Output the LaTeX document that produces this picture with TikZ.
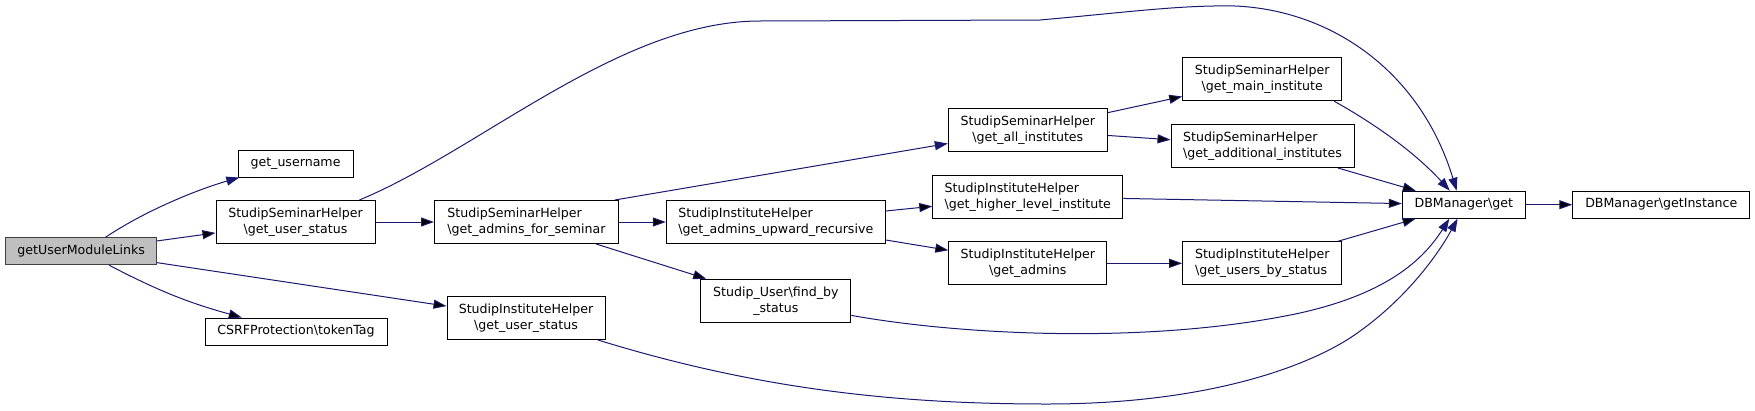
\documentclass[tikz,border=0pt]{standalone}
\usepackage{fontspec}
\setmainfont{DejaVu Sans}
\usepackage{tikz}
\usetikzlibrary{arrows.meta}
\definecolor{callblue}{HTML}{191970}
\definecolor{rootfill}{HTML}{BFBFBF}
\definecolor{rootdraw}{HTML}{404040}
\newcommand{\bsl}{\textbackslash}

\begin{document}
\begin{tikzpicture}[x=1pt,y=-1pt,>={Triangle[length=13pt,width=9pt]},
fn/.style={draw=black,line width=1pt,fill=white,inner sep=0pt,
minimum height=27pt,font=\fontsize{12.6}{16}\selectfont},
fntwo/.style={fn,minimum height=43pt},
root/.style={fn,draw=rootdraw,fill=rootfill},
call/.style={draw=callblue,line width=1pt}]
\useasboundingbox (0,0) rectangle (1755,410);
\node[root,minimum width=151pt] (guml) at (81.2,251.3) {getUserModuleLinks};
\node[fn,minimum width=115pt] (uname) at (295.5,163.5) {get\_username};
\node[fntwo,minimum width=159pt,align=center] (sshus) at (295.5,222) {StudipSeminarHelper\\\bsl get\_user\_status};
\node[fn,minimum width=182pt] (csrf) at (296,331.5) {CSRFProtection\bsl tokenTag};
\node[fntwo,minimum width=184pt,align=left] (sshafs) at (526.5,222) {StudipSeminarHelper\\\bsl get\_admins\_for\_seminar};
\node[fntwo,minimum width=158pt,align=center] (sihus) at (526,318) {StudipInstituteHelper\\\bsl get\_user\_status};
\node[fntwo,minimum width=219pt,align=left] (sihaur) at (775.8,222) {StudipInstituteHelper\\\bsl get\_admins\_upward\_recursive};
\node[fntwo,minimum width=150pt,align=center] (finduser) at (775.8,300.7) {Studip\_User\bsl find\_by\\\_status};
\node[fntwo,minimum width=159pt,align=center] (allinst) at (1027.8,130) {StudipSeminarHelper\\\bsl get\_all\_institutes};
\node[fntwo,minimum width=190pt,align=left] (higher) at (1027.8,196.7) {StudipInstituteHelper\\\bsl get\_higher\_level\_institute};
\node[fntwo,minimum width=158pt,align=center] (admins) at (1027.8,263.3) {StudipInstituteHelper\\\bsl get\_admins};
\node[fntwo,minimum width=159pt,align=center] (maininst) at (1262.2,79.2) {StudipSeminarHelper\\\bsl get\_main\_institute};
\node[fntwo,minimum width=183pt,align=left] (addinst) at (1262.5,146) {StudipSeminarHelper\\\bsl get\_additional\_institutes};
\node[fntwo,minimum width=159pt,align=left] (bystatus) at (1262.2,263.3) {StudipInstituteHelper\\\bsl get\_users\_by\_status};
\node[fn,minimum width=123pt] (dbget) at (1463.8,204.7) {DBManager\bsl get};
\node[fn,minimum width=177pt] (dbinst) at (1661.3,204.7) {DBManager\bsl getInstance};
% straight calls
\draw[->,call]
(guml) edge (sshus)
(guml) edge[bend right=6] (csrf)
(guml) edge (sihus)
(sshus) edge (sshafs)
(sshafs) edge (sihaur)
(sshafs) edge (finduser)
(sihaur) edge (higher)
(sihaur) edge (admins)
(allinst) edge (maininst)
(allinst) edge (addinst)
(admins) edge (bystatus)
(higher) edge (dbget)
(addinst) edge (dbget)
(bystatus) edge (dbget)
(dbget) edge (dbinst);
\draw[->,call] (sshafs.14) -- (allinst);
% curved calls
\draw[->,call] (guml.30) .. controls +(45,-30) and +(-35,10) .. (uname.194);
\draw[->,call] (maininst.-17) .. controls +(50,28) and +(-30,-33) .. (dbget.135);
\draw[->,call] (sshus.19) .. controls (480,150) and (620,21) .. (760,21) -- (1040,20)
.. controls (1130,12) and (1180,5) .. (1235,6) .. controls (1330,10) and (1420,70) .. (dbget.117);
\draw[->,call] (finduser.-11.5) .. controls (960,335) and (1150,345) .. (1300,313)
.. controls (1380,295) and (1420,265) .. (dbget.224);
\draw[->,call] (sihus.-17) .. controls (760,390) and (900,404) .. (1047,404)
.. controls (1200,404) and (1300,370) .. (1350,338) .. controls (1400,305) and (1435,260) .. (dbget.246);
\end{tikzpicture}
\end{document}
